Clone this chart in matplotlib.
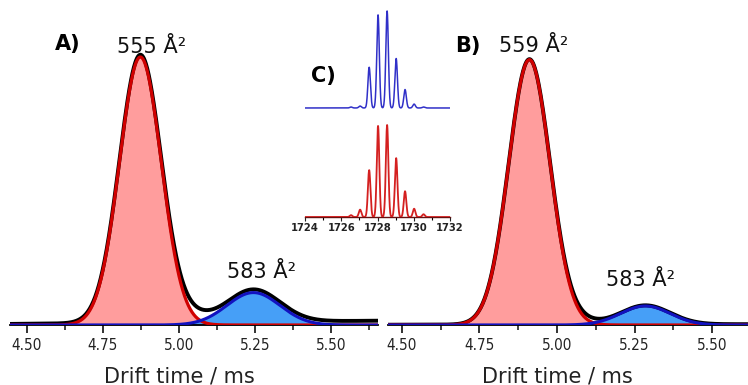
import numpy as np
from matplotlib import pyplot as plt
from matplotlib import font_manager
from matplotlib.ticker import MultipleLocator

# ajustes gaussianos: [centro (ms), sigma (ms), altura relativa]
ajuste_a_rojo = [4.873, 0.069, 1.000]
ajuste_a_azul = [5.245, 0.087, 0.121]
cola_a = [5.04, 0.055, 0.020]
linea_base_a = [0.004, 0.016]

ajuste_b_rojo = [4.911, 0.067, 0.990]
ajuste_b_azul = [5.285, 0.080, 0.071]
cola_b = [5.07, 0.050, 0.012]
linea_base_b = [0.001, 0.003]

etiquetas_a = ['555 Å²', '583 Å²']
etiquetas_b = ['559 Å²', '583 Å²']

ticks_ms = [4.50, 4.75, 5.00, 5.25, 5.50]

# recuadro C: distribucion isotopica (m/z, intensidad relativa)
mz_picos = [1726.54, 1727.04, 1727.54, 1728.03, 1728.53, 1729.03, 1729.52, 1730.02, 1730.54]
int_azul = [0.01, 0.02, 0.42, 0.96, 1.00, 0.51, 0.19, 0.04, 0.01]
int_rojo = [0.02, 0.08, 0.51, 0.99, 1.00, 0.64, 0.28, 0.09, 0.03]
ticks_mz = [1724, 1726, 1728, 1730, 1732]

ROJO_RELLENO = '#ff9d9d'
ROJO_LINEA = '#d00000'
AZUL_RELLENO = '#3295f7'
AZUL_LINEA = '#1212c0'

# fuente estrecha para los numeros de los ejes
nombres = {f.name for f in font_manager.fontManager.ttflist}
if 'Liberation Sans Narrow' in nombres:
    FUENTE_TICKS = dict(family='Liberation Sans Narrow')
else:
    FUENTE_TICKS = dict(family='DejaVu Sans', stretch='condensed')


def gauss(x, params):
    centro, sigma, alto = params
    return alto * np.exp(-(x - centro) ** 2 / (2 * sigma ** 2))


def panel(ax, xlim, rojo, azul, cola, base, etiquetas, pos_etiquetas, letra, pos_letra):
    x = np.linspace(xlim[0], xlim[1], 800)
    y_rojo = gauss(x, rojo)
    y_azul = gauss(x, azul)
    fondo = np.interp(x, xlim, base)
    y_total = y_rojo + y_azul + gauss(x, cola) + fondo

    ax.fill_between(x, 0, y_rojo, color=ROJO_RELLENO, lw=0, zorder=1)
    ax.fill_between(x, 0, y_azul, color=AZUL_RELLENO, lw=0, alpha=0.9, zorder=1.1)
    ax.plot(x, y_total, color='black', lw=2.8, zorder=2)
    ax.plot(x, y_rojo, color=ROJO_LINEA, lw=2.3, zorder=3)
    ax.plot(x, y_azul, color=AZUL_LINEA, lw=2.2, zorder=3.1)

    ax.set_xlim(xlim)
    ax.set_ylim(0, 325 / 268)
    for lado in ['left', 'right', 'top']:
        ax.spines[lado].set_visible(False)
    ax.spines['bottom'].set_linewidth(1.3)
    ax.set_yticks([])
    ax.set_xticks(ticks_ms)
    ax.set_xticklabels([f'{t:.2f}' for t in ticks_ms], fontsize=11, **FUENTE_TICKS)
    ax.xaxis.set_minor_locator(MultipleLocator(0.125))
    ax.tick_params(axis='x', which='major', length=6, width=1.3, pad=3.5, colors='#222222')
    ax.tick_params(axis='x', which='minor', length=3.5, width=1.2, colors='#222222')
    ax.patch.set_alpha(0)

    for texto, (px, py) in zip(etiquetas, pos_etiquetas):
        ax.text(px, py, texto, ha='center', va='baseline', fontsize=15, color='#111111')
    ax.text(pos_letra[0], pos_letra[1], letra, transform=ax.transAxes,
            fontsize=15, fontweight='bold', va='baseline', ha='left')
    ax.annotate('Drift time / ms', xy=(5.0, 3), xycoords=('data', 'figure pixels'),
                ha='center', va='baseline', fontsize=15, color='#222222')


fig = plt.figure(figsize=(7.48, 3.85), dpi=100)
W, H = 748, 385

ax_a = fig.add_axes([10 / W, 60 / H, 368 / W, 325 / H])
panel(ax_a, (4.444, 5.655), ajuste_a_rojo, ajuste_a_azul, cola_a, linea_base_a,
      etiquetas_a, [(4.911, 1.015), (5.273, 0.175)], 'A)', (0.122, 0.846))

ax_b = fig.add_axes([388 / W, 60 / H, 360 / W, 325 / H])
panel(ax_b, (4.455, 5.616), ajuste_b_rojo, ajuste_b_azul, cola_b, linea_base_b,
      etiquetas_b, [(4.926, 1.019), (5.271, 0.146)], 'B)', (0.186, 0.84))

# recuadro C
ax_c = fig.add_axes([305 / W, (H - 217) / H, 145 / W, 209 / H])
mz = np.linspace(1724, 1732, 1200)
esp_rojo = np.zeros_like(mz)
esp_azul = np.zeros_like(mz)
for c, ir, ia in zip(mz_picos, int_rojo, int_azul):
    esp_rojo += gauss(mz, [c, 0.07, ir])
    esp_azul += gauss(mz, [c, 0.07, ia])
ax_c.plot(mz, esp_rojo, color='#d42020', lw=1.3, zorder=3)
ax_c.plot(mz, 1.185 + 1.054 * esp_azul, color='#3030c8', lw=1.1)
ax_c.set_xlim(1724, 1732)
ax_c.set_ylim(0, 209 / 92)
for lado in ['left', 'right', 'top']:
    ax_c.spines[lado].set_visible(False)
ax_c.spines['bottom'].set_color('#661111')
ax_c.spines['bottom'].set_linewidth(1.0)
ax_c.set_yticks([])
ax_c.set_xticks(ticks_mz)
ax_c.set_xticklabels([str(t) for t in ticks_mz], fontweight='bold', fontsize=8, **FUENTE_TICKS)
ax_c.xaxis.set_minor_locator(MultipleLocator(1))
ax_c.tick_params(axis='x', which='major', length=3, width=0.8, pad=1.5, colors='#222222')
ax_c.tick_params(axis='x', which='minor', length=2, width=0.8)
ax_c.patch.set_alpha(0)
fig.text(311 / W, 1 - 82 / H, 'C)', fontsize=15, fontweight='bold', va='baseline', ha='left')

fig.savefig('out.png', dpi=100)
